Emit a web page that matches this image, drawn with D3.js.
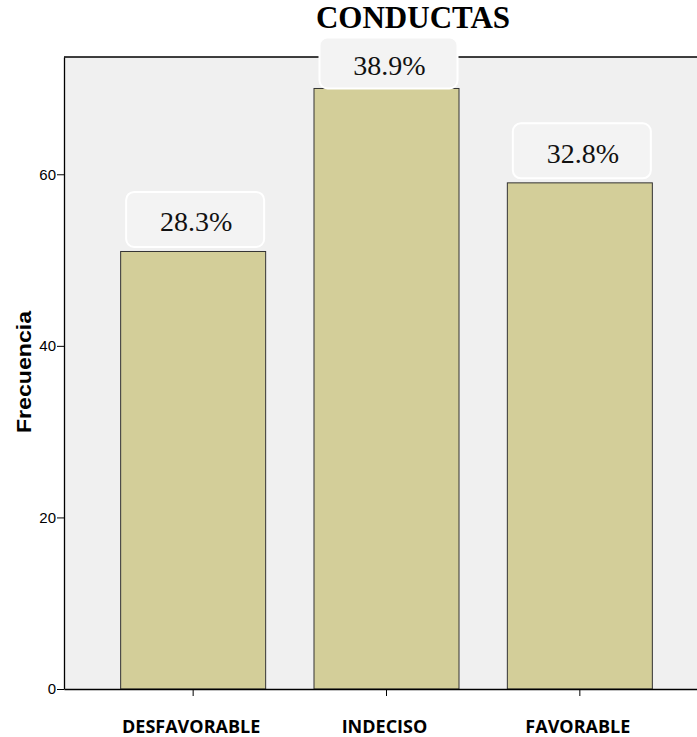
<!DOCTYPE html>
<html>
<head>
<meta charset="UTF-8">
<title>CONDUCTAS</title>
<script src="https://d3js.org/d3.v7.min.js"></script>
<style>
  body { margin: 0; background: #fff; }
  svg { display: block; }
</style>
</head>
<body>
<div id="chart"></div>
<script type="text/javascript">

// data
const categories = ["DESFAVORABLE", "INDECISO", "FAVORABLE"];
const counts = [51, 70, 59];
const percentLabels = ["28.3%", "38.9%", "32.8%"];
const yTicks = [0, 20, 40, 60];

const W = 697, H = 737;
const margin = { top: 57, right: -12, bottom: 48, left: 64 };
const innerW = W - margin.left - margin.right;
const innerH = H - margin.top - margin.bottom;

const svg = d3.select("#chart").append("svg")
    .attr("width", W)
    .attr("height", H);

const g = svg.append("g")
    .attr("transform", "translate(" + margin.left + "," + margin.top + ")");

let x = d3.scaleBand()
    .domain(categories)
    .range([0, innerW])
    .paddingInner(0.25)
    .paddingOuter(0.293);

let y = d3.scaleLinear()
    .domain([0, 73.67])
    .range([innerH, 0]);

// plot background
g.append("rect")
    .attr("x", 0).attr("y", 0)
    .attr("width", innerW).attr("height", innerH)
    .attr("fill", "#f0f0f0");

// bars
g.selectAll(".bar")
    .data(counts)
    .enter()
    .append("rect")
    .attr("class", "bar")
    .attr("x", (d, i) => x(categories[i]))
    .attr("y", d => y(d))
    .attr("width", x.bandwidth())
    .attr("height", d => innerH - y(d))
    .attr("fill", "#d3ce99")
    .attr("stroke", "#333")
    .attr("stroke-width", 1);

// frame top line
g.append("line")
    .attr("x1", 0).attr("x2", innerW)
    .attr("y1", 0).attr("y2", 0)
    .attr("stroke", "#000").attr("stroke-width", 1.3);

// y axis
let yAxis = g.append("g")
    .call(d3.axisLeft(y).tickValues(yTicks).tickSize(7).tickPadding(1).tickSizeOuter(0));
yAxis.select(".domain").attr("stroke-width", 1.3);
yAxis.selectAll("text")
    .attr("font-family", "'Liberation Sans Narrow', 'Arial Narrow', sans-serif")
    .attr("font-size", 15)
    .attr("fill", "#000");

// x axis
let xAxis = g.append("g")
    .attr("transform", "translate(0," + innerH + ")")
    .call(d3.axisBottom(x).tickSize(7).tickSizeOuter(0).tickFormat(""));
xAxis.select(".domain").attr("stroke-width", 1.3);

// category labels
g.selectAll(".cat")
    .data(categories)
    .enter()
    .append("text")
    .attr("class", "cat")
    .attr("x", d => x(d) + x.bandwidth() / 2 - 2)
    .attr("y", innerH + 44)
    .attr("text-anchor", "middle")
    .attr("font-family", "'Open Sans', 'Noto Sans', sans-serif")
    .attr("font-weight", "bold")
    .attr("font-size", 18)
    .text(d => d);

// percentage label boxes, kept below the top of the title area
const boxH = 55, boxW = 138, gap = 4.5, minTop = -19.5;
function boxTop(d) { return Math.max(y(d) - gap - boxH, minTop); }
function boxBottom(d) { return Math.min(boxTop(d) + boxH, y(d)); }

let labels = g.selectAll(".lbl")
    .data(counts)
    .enter()
    .append("g")
    .attr("class", "lbl");

labels.append("rect")
    .attr("x", (d, i) => x(categories[i]) + x.bandwidth() / 2 - boxW / 2 + 2)
    .attr("y", d => boxTop(d))
    .attr("width", boxW)
    .attr("height", d => boxBottom(d) - boxTop(d))
    .attr("rx", 8)
    .attr("fill", "#f3f3f3")
    .attr("stroke", "#fff")
    .attr("stroke-width", 2);

labels.append("text")
    .attr("x", (d, i) => x(categories[i]) + x.bandwidth() / 2 + 3)
    .attr("y", d => (boxTop(d) + boxBottom(d)) / 2 + 12)
    .attr("text-anchor", "middle")
    .attr("font-family", "'Liberation Serif', 'Times New Roman', serif")
    .attr("font-size", 28)
    .attr("fill", "#111")
    .text((d, i) => percentLabels[i]);

// y axis title
svg.append("text")
    .attr("transform", "translate(31,372) rotate(-90)")
    .attr("text-anchor", "middle")
    .attr("font-family", "'Liberation Sans', Arial, sans-serif")
    .attr("font-weight", "bold")
    .attr("font-size", 20)
    .attr("textLength", 122)
    .attr("lengthAdjust", "spacingAndGlyphs")
    .text("Frecuencia");

// chart title
svg.append("text")
    .attr("x", 413)
    .attr("y", 28)
    .attr("text-anchor", "middle")
    .attr("font-family", "'Liberation Serif', 'Times New Roman', serif")
    .attr("font-weight", "bold")
    .attr("font-size", 31)
    .text("CONDUCTAS");

</script>
</body>
</html>
